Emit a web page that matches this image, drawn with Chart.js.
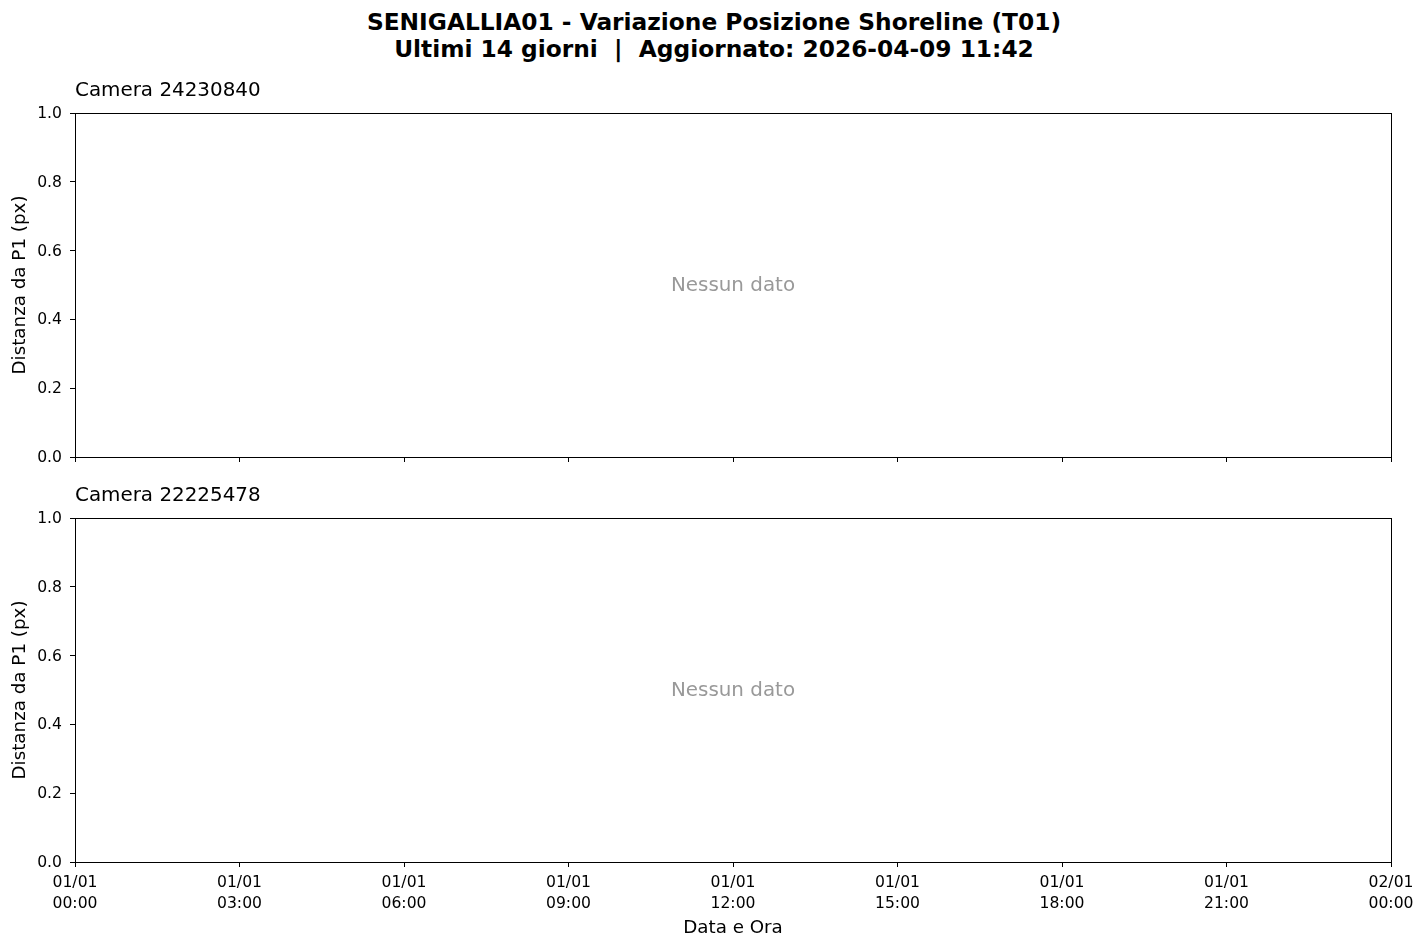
<!DOCTYPE html>
<html>
<head>
<meta charset="utf-8">
<script src="https://cdn.jsdelivr.net/npm/chart.js@4.4.1/dist/chart.umd.min.js"></script>
<style>
html,body{margin:0;padding:0;background:#fff;width:1428px;height:949px;overflow:hidden;font-family:'DejaVu Sans',sans-serif;}
#sup{position:absolute;left:0;top:8px;width:1428px;text-align:center;font-weight:bold;font-size:23.3px;line-height:27px;color:#000;white-space:pre;}
.wrap{position:absolute;left:0;width:1428px;}
canvas{display:block;}
</style>
</head>
<body>
<div id="sup">SENIGALLIA01 - Variazione Posizione Shoreline (T01)
Ultimi 14 giorni  |  Aggiornato: 2026-04-09 11:42</div>
<div class="wrap" style="top:60px;height:420px"><canvas id="c1" width="1428" height="420"></canvas></div>
<div class="wrap" style="top:480px;height:469px"><canvas id="c2" width="1428" height="469"></canvas></div>
<script>
// ---- data ----
const cameraNames = ['Camera 24230840', 'Camera 22225478'];
const camera1Hours = [];      // no data
const camera1Distances = [];  // no data
const camera2Hours = [];      // no data
const camera2Distances = [];  // no data
const xTickHours = [0, 3, 6, 9, 12, 15, 18, 21, 24];
const xTickLabels = [
  ['01/01', '00:00'], ['01/01', '03:00'], ['01/01', '06:00'], ['01/01', '09:00'],
  ['01/01', '12:00'], ['01/01', '15:00'], ['01/01', '18:00'], ['01/01', '21:00'],
  ['02/01', '00:00']
];
const yTickValues = [0.0, 0.2, 0.4, 0.6, 0.8, 1.0];
const yAxisTitle = 'Distanza da P1 (px)';
const xAxisTitle = 'Data e Ora';
const noDataText = 'Nessun dato';

Chart.defaults.font.family = "'DejaVu Sans', sans-serif";
Chart.defaults.color = '#000';

const panelPlugin = {
  id: 'panel',
  afterDraw(chart, args, opts) {
    const {ctx, chartArea: a} = chart;
    ctx.save();
    // frame
    ctx.strokeStyle = '#000';
    ctx.lineWidth = 1;
    ctx.strokeRect(Math.round(a.left) + 0.5, Math.round(a.top) + 0.5,
                   Math.round(a.right) - Math.round(a.left), Math.round(a.bottom) - Math.round(a.top));
    // subplot title
    ctx.fillStyle = '#000';
    ctx.font = "19.9px 'DejaVu Sans'";
    ctx.textAlign = 'left';
    ctx.textBaseline = 'alphabetic';
    ctx.fillText(opts.title, a.left, a.top - 17);
    // no data text
    if (opts.empty) {
      ctx.fillStyle = '#999999';
      ctx.font = "19.9px 'DejaVu Sans'";
      ctx.textAlign = 'center';
      ctx.textBaseline = 'middle';
      ctx.fillText(noDataText, (a.left + a.right) / 2, (a.top + a.bottom) / 2 + 1);
    }
    ctx.restore();
  }
};

function makeChart(id, name, hours, values, showX, padTop, xHeight) {
  const pts = hours.map((h, i) => ({x: h, y: values[i]}));
  return new Chart(document.getElementById(id), {
    type: 'line',
    data: {datasets: [{label: name, data: pts, borderColor: '#1f77b4', pointRadius: 3}]},
    plugins: [panelPlugin],
    options: {
      responsive: false,
      animation: false,
      devicePixelRatio: 1,
      layout: {padding: {left: 0, right: 37, top: padTop, bottom: 0}},
      plugins: {
        legend: {display: false},
        tooltip: {enabled: false},
        panel: {title: name, empty: values.length === 0}
      },
      scales: {
        x: {
          type: 'linear',
          min: xTickHours[0],
          max: xTickHours[xTickHours.length - 1],
          afterBuildTicks: s => { s.ticks = xTickHours.map(v => ({value: v})); },
          afterFit: s => { s.height = xHeight; },
          grid: {display: true, drawOnChartArea: false, drawTicks: true, tickLength: 5, color: '#000', lineWidth: 1},
          border: {display: true, color: '#000', width: 1},
          ticks: {
            display: showX,
            autoSkip: false,
            maxRotation: 0,
            padding: 5,
            font: {size: 15.6, lineHeight: 1.35},
            color: '#000',
            callback: (v, i) => xTickLabels[i]
          },
          title: {display: showX, text: xAxisTitle, font: {size: 18.3, lineHeight: 1.2}, color: '#000', padding: {top: 0, bottom: 10}}
        },
        y: {
          type: 'linear',
          min: yTickValues[0],
          max: yTickValues[yTickValues.length - 1],
          afterBuildTicks: s => { s.ticks = yTickValues.map(v => ({value: v})); },
          afterFit: s => { s.width = 75; },
          grid: {display: true, drawOnChartArea: false, drawTicks: true, tickLength: 5, color: '#000', lineWidth: 1},
          border: {display: true, color: '#000', width: 1},
          ticks: {
            padding: 8,
            labelOffset: 1,
            font: {size: 15.6},
            color: '#000',
            callback: v => Number(v).toFixed(1)
          },
          title: {display: true, text: yAxisTitle, font: {size: 18.3, lineHeight: 1.2}, color: '#000', padding: {top: 9, bottom: 0}}
        }
      }
    }
  });
}

makeChart('c1', cameraNames[0], camera1Hours, camera1Distances, false, 53, 23);
makeChart('c2', cameraNames[1], camera2Hours, camera2Distances, true, 38, 87);
</script>
</body>
</html>
